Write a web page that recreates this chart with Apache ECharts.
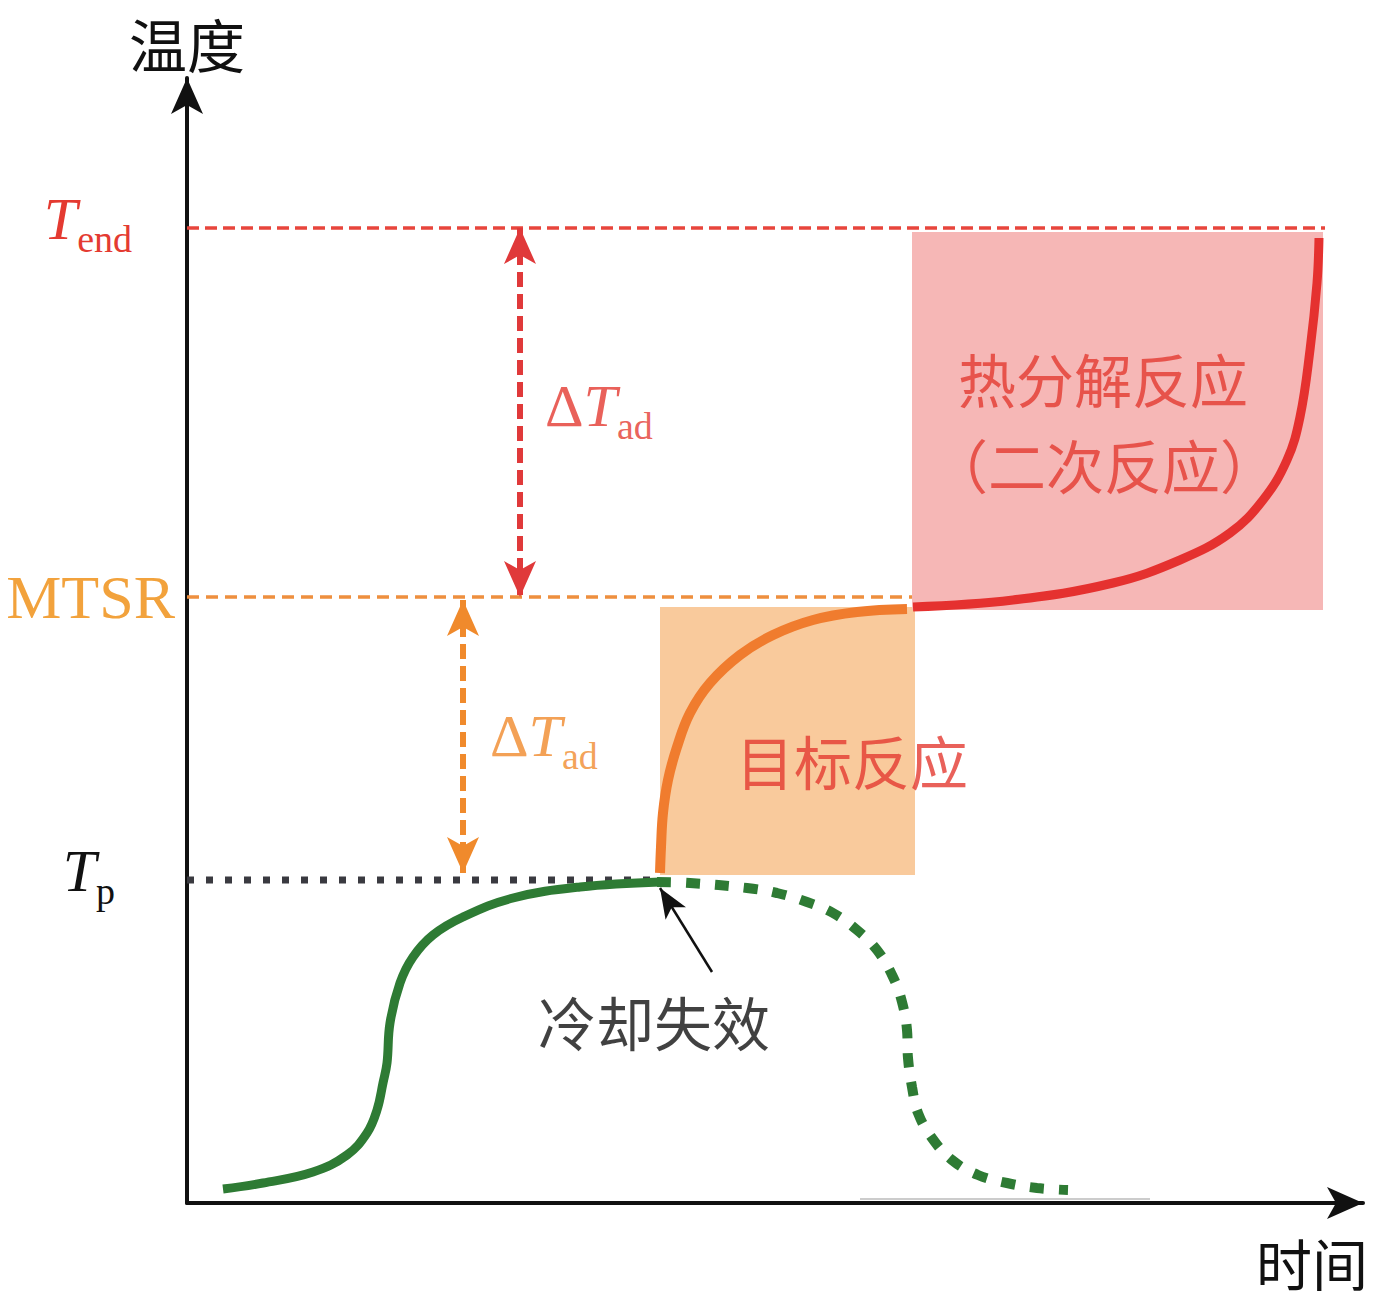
<!DOCTYPE html>
<html>
<head>
<meta charset="utf-8">
<title>冷却失效情形</title>
<script src="https://cdn.jsdelivr.net/npm/echarts@6/dist/echarts.min.js"></script>
<style>
  html, body { margin: 0; padding: 0; background: #fff; }
  #chart { width: 1381px; height: 1300px; }
</style>
</head>
<body>
<div id="chart"></div>
<script>
// temperature levels marked on the y axis
const levelNames = ['Tp', 'MTSR', 'Tend']
const levelValues = [32.3, 60.6, 97.5]
const levelEnds = [47.3, 72.5, 113.8]

// normal process under cooling
const coolingTime = [3.6, 7.6, 12.6, 16.0, 18.0, 19.0, 19.6, 20.0, 20.3, 21.3, 22.6, 24.6, 27.6, 32.6, 39.3, 47.3]
const coolingTemp = [1.4, 2.0, 3.1, 4.8, 7.0, 9.3, 12.0, 14.0, 18.0, 22.0, 24.6, 26.8, 28.6, 30.5, 31.6, 32.1]

// what would have happened with cooling kept on (dotted)
const keptTime = [47.0, 50.3, 56.0, 59.0, 62.0, 64.6, 67.0, 69.0, 70.6, 71.5, 72.0, 72.1, 72.5, 73.1, 74.5, 76.5, 79.1, 82.0, 85.0, 88.1]
const keptTemp = [32.1, 32.0, 31.5, 31.0, 30.1, 29.0, 27.3, 25.3, 22.6, 20.1, 17.3, 14.5, 11.6, 9.0, 6.5, 4.3, 2.8, 2.0, 1.5, 1.3]

// target reaction after cooling failure
const targetTime = [47.3, 47.4, 47.6, 48.1, 49.0, 50.3, 52.3, 55.3, 58.6, 62.6, 67.0, 72.0]
const targetTemp = [33.0, 35.6, 39.0, 42.3, 45.6, 49.0, 52.0, 54.8, 56.8, 58.3, 59.1, 59.4]

// secondary (decomposition) reaction
const decompTime = [72.6, 82.6, 92.6, 99.3, 104.3, 107.6, 110.0, 111.3, 112.3, 113.0, 113.2]
const decompTemp = [59.6, 60.3, 62.0, 64.3, 67.0, 70.3, 74.3, 78.6, 85.3, 92.0, 96.5]

// reaction zones: [timeFrom, tempFrom, timeTo, tempTo]
const targetZone = [47.3, 32.8, 72.8, 59.6]
const decompZone = [72.5, 59.3, 113.6, 97.1]

// ΔTad arrows: [time, tempTop, tempBottom]
const adiabaticRed = [33.3, 97.5, 60.6]
const adiabaticOrange = [27.6, 60.3, 33.0]

// cooling failure pointer: from label to the failure point
const failurePointer = [[52.5, 23.1], [47.3, 31.5]]
const baselineStub = [[67.3, 0.4], [96.3, 0.4]]

const annotTexts = ['目标反应', '热分解反应', '（二次反应）', '冷却失效']
const annotAnchors = [[66.5, 44.3], [91.6, 82.5], [91.7, 73.9], [46.7, 18.2]]

const SERIF = 'Liberation Serif'
const CJK = 'Noto Sans CJK SC'
const RED = '#e43a31'
const ORANGE = '#f08a2c'

const zip = (xs, ys) => xs.map((x, i) => [x, ys[i]])

const levelLabels = {
  Tp: '{ti|T}{sb|p}',
  MTSR: '{ms|MTSR}',
  Tend: '{tr|T}{sr|end}',
}
const levelColors = ['#3a3a40', '#ee8f3e', '#e8453c']
const levelDash = [[7, 12], [12, 7], [12, 6]]
const levelWidth = [7, 3.5, 3.5]

const chart = echarts.init(document.getElementById('chart'), null, { renderer: 'svg' })

const axisLine = {
  show: true,
  symbol: ['none', 'arrow'],
  symbolSize: [24, 36],
  lineStyle: { color: '#111', width: 4 },
}

const series = []

// zones
series.push({
  type: 'line',
  data: [],
  z: 1,
  silent: true,
  markArea: {
    silent: true,
    label: { show: false },
    data: [
      [{ coord: [targetZone[0], targetZone[1]], itemStyle: { color: '#f9ca9c' } }, { coord: [targetZone[2], targetZone[3]] }],
      [{ coord: [decompZone[0], decompZone[1]], itemStyle: { color: '#f6b7b6' } }, { coord: [decompZone[2], decompZone[3]] }],
    ],
  },
})

series.push({
  type: 'line',
  data: baselineStub,
  symbol: 'none',
  z: 2,
  lineStyle: { color: '#9a9a9a', width: 1.2 },
})

// level lines
levelValues.forEach((v, i) => {
  series.push({
    type: 'line',
    name: levelNames[i],
    data: [[0, v], [levelEnds[i], v]],
    symbol: 'none',
    z: 2,
    lineStyle: { color: levelColors[i], width: levelWidth[i], type: levelDash[i], cap: 'butt' },
  })
})

// curves
series.push({
  type: 'line',
  name: '冷却',
  data: zip(keptTime, keptTemp),
  symbol: 'none',
  smooth: 0.4,
  z: 3,
  lineStyle: { color: '#2e7b34', width: 10, type: [14, 15], cap: 'butt' },
})
series.push({
  type: 'line',
  name: '正常工艺',
  data: zip(coolingTime, coolingTemp),
  symbol: 'none',
  smooth: 0.4,
  z: 3,
  lineStyle: { color: '#2e7b34', width: 9 },
})
series.push({
  type: 'line',
  name: '目标反应',
  data: zip(targetTime, targetTemp),
  symbol: 'none',
  smooth: 0.4,
  z: 3,
  lineStyle: { color: '#f07c2e', width: 10 },
})
series.push({
  type: 'line',
  name: '热分解反应',
  data: zip(decompTime, decompTemp),
  symbol: 'none',
  smooth: 0.4,
  z: 3,
  lineStyle: { color: '#e5312f', width: 9 },
})

// arrows
function doubleArrow(spec, color) {
  return {
    type: 'line',
    data: [],
    z: 4,
    silent: true,
    markLine: {
      silent: true,
      symbol: ['arrow', 'arrow'],
      symbolSize: [24, 36],
      label: { show: false },
      lineStyle: { color: color, width: 6, type: [15, 7] },
      data: [[{ coord: [spec[0], spec[1]] }, { coord: [spec[0], spec[2]] }]],
    },
  }
}
series.push(doubleArrow(adiabaticRed, '#e0393a'))
series.push(doubleArrow(adiabaticOrange, ORANGE))

series.push({
  type: 'line',
  data: [],
  z: 4,
  silent: true,
  markLine: {
    silent: true,
    symbol: ['none', 'arrow'],
    symbolSize: [18, 30],
    label: { show: false },
    lineStyle: { color: '#111', width: 2.5, type: 'solid' },
    data: [[{ coord: failurePointer[0] }, { coord: failurePointer[1] }]],
  },
})

// text labels
const annotColors = [RED, RED, RED, '#111']
series.push({
  type: 'scatter',
  z: 5,
  silent: true,
  symbolSize: 0,
  data: annotAnchors.map((p, i) => ({
    value: p,
    name: annotTexts[i],
    label: { color: annotColors[i] },
  })),
  label: {
    show: true,
    position: 'inside',
    formatter: (p) => p.name,
    fontFamily: CJK,
    fontSize: 58,
  },
})

const dtRich = (color) => ({
  d: { fontFamily: SERIF, fontSize: 60, color, lineHeight: 60, padding: [0, 0, 9, 0], verticalAlign: 'bottom' },
  t: { fontFamily: SERIF, fontStyle: 'italic', fontSize: 60, color, lineHeight: 60, padding: [0, 0, 9, 0], verticalAlign: 'bottom' },
  s: { fontFamily: SERIF, fontSize: 38, color, lineHeight: 38, verticalAlign: 'bottom' },
})
series.push({
  type: 'scatter',
  z: 5,
  silent: true,
  symbolSize: 0,
  data: [
    { value: [adiabaticRed[0] + 2.5, 78.8], label: { rich: dtRich(RED) } },
    { value: [adiabaticOrange[0] + 2.7, 45.8], label: { rich: dtRich(ORANGE) } },
  ],
  label: {
    show: true,
    position: 'inside',
    align: 'left',
    verticalAlign: 'middle',
    formatter: '{d|Δ}{t|T}{s|ad}',
  },
})

chart.setOption({
  animation: false,
  backgroundColor: '#fff',
  grid: { left: 187, right: 18, top: 78, bottom: 97, outerBoundsMode: 'none' },
  xAxis: {
    type: 'value',
    min: 0,
    max: 117.6,
    axisLine,
    axisTick: { show: false },
    axisLabel: { show: false },
    splitLine: { show: false },
    name: '时间',
    nameLocation: 'end',
    nameGap: -51,
    nameTextStyle: { fontFamily: CJK, fontSize: 56, lineHeight: 56, color: '#111', align: 'center', verticalAlign: 'top', padding: [30, 0, 0, 0] },
  },
  yAxis: {
    type: 'value',
    min: 0,
    max: 112.5,
    axisLine,
    axisTick: { show: false },
    splitLine: { show: false },
    axisLabel: {
      customValues: levelValues,
      margin: 12,
      formatter: (v) => levelLabels[levelNames[levelValues.indexOf(v)]] || '',
      rich: {
        ti: { fontFamily: SERIF, fontStyle: 'italic', fontSize: 60, color: '#111', lineHeight: 60, padding: [0, 0, 9, 0], verticalAlign: 'bottom' },
        sb: { fontFamily: SERIF, fontSize: 38, color: '#111', lineHeight: 38, padding: [0, 60, 0, 0], verticalAlign: 'bottom' },
        ms: { fontFamily: SERIF, fontSize: 62, color: '#f2a23c', lineHeight: 62 },
        tr: { fontFamily: SERIF, fontStyle: 'italic', fontSize: 60, color: RED, lineHeight: 60, padding: [0, 0, 9, 0], verticalAlign: 'bottom' },
        sr: { fontFamily: SERIF, fontSize: 38, color: RED, lineHeight: 38, padding: [0, 43, 0, 0], verticalAlign: 'bottom' },
      },
    },
    name: '温度',
    nameLocation: 'end',
    nameGap: 6,
    nameTextStyle: { fontFamily: CJK, fontSize: 58, lineHeight: 58, color: '#111' },
  },
  series,
})
</script>
</body>
</html>
